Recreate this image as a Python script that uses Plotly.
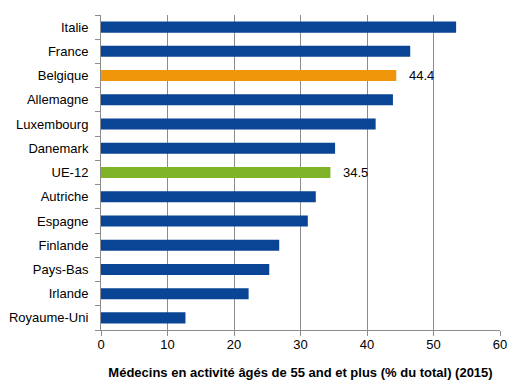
import plotly.graph_objects as go

countries = ["Italie", "France", "Belgique", "Allemagne", "Luxembourg", "Danemark", "UE-12",
             "Autriche", "Espagne", "Finlande", "Pays-Bas", "Irlande", "Royaume-Uni"]
values = [53.4, 46.5, 44.4, 43.9, 41.3, 35.2, 34.5, 32.3, 31.1, 26.8, 25.3, 22.2, 12.7]
labels = {"Belgique": "44.4", "UE-12": "34.5"}
x_ticks = [0, 10, 20, 30, 40, 50, 60]

BLUE = "#0a4595"
ORANGE = "#f0960a"
GREEN = "#80b428"
colors = [ORANGE if c == "Belgique" else GREEN if c == "UE-12" else BLUE for c in countries]

fig = go.Figure(go.Bar(
    x=values, y=countries, orientation="h",
    marker=dict(color=colors, line=dict(width=0)),
    hoverinfo="x+y",
))

for c, v in zip(countries, values):
    if c in labels:
        fig.add_annotation(x=v, y=c, text=labels[c], showarrow=False,
                           xanchor="left", xshift=11,
                           font=dict(family="Liberation Sans, Arial", size=13, color="#000"))

fig.update_layout(
    width=523, height=380,
    margin=dict(l=93, r=31, t=7, b=58),
    paper_bgcolor="white", plot_bgcolor="white",
    bargap=0.545,
    showlegend=False,
    font=dict(family="Liberation Sans, Arial", size=13, color="#000"),
    xaxis=dict(range=[0, 60], tickvals=x_ticks, showgrid=True, gridcolor="#8c8c8c", gridwidth=1,
               showline=True, linecolor="#8c8c8c", linewidth=1, ticks="outside", ticklen=5,
               tickcolor="#8c8c8c", zeroline=False, automargin=False, ticklabelstandoff=-3,
               title=dict(text="<b>Médecins en activité âgés de 55 and et plus (% du total) (2015)</b>",
                          font=dict(size=13), standoff=17),
               tickfont=dict(size=13)),
    yaxis=dict(categoryorder="array", categoryarray=countries[::-1], autorange=True,
               showline=True, linecolor="#8c8c8c", linewidth=1, ticks="outside", ticklen=5,
               tickcolor="#8c8c8c", tickson="boundaries", showgrid=False, automargin=False,
               tickfont=dict(size=13), ticklabelstandoff=9),
)

fig.write_html("out.html")
